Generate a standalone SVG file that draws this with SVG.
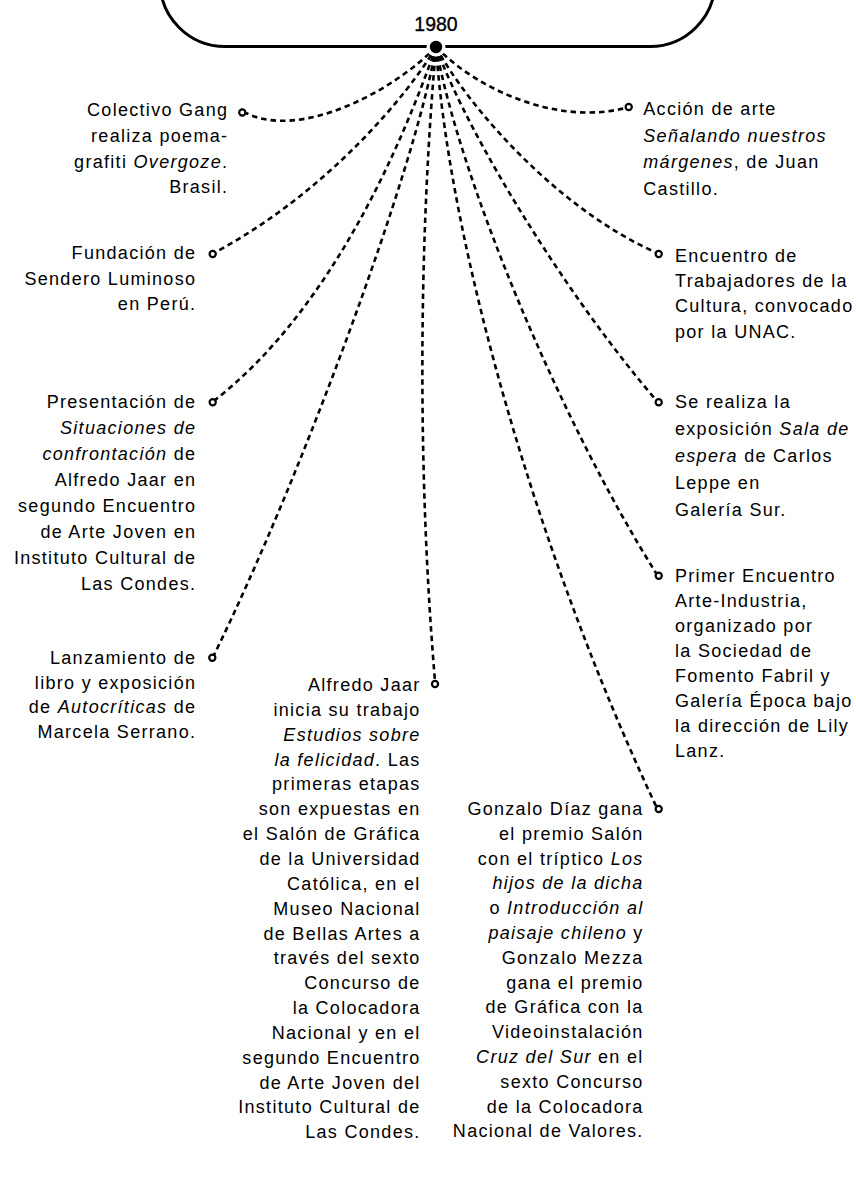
<svg xmlns="http://www.w3.org/2000/svg" width="856" height="1179" viewBox="0 0 856 1179">
<style>
.t{font-family:"Liberation Sans",Arial,sans-serif;font-size:18px;letter-spacing:1.3px;fill:#000}
.e{text-anchor:end}
.i{font-style:italic}
.c{fill:none;stroke:#000;stroke-width:2.6;stroke-dasharray:5.5 4}
.n{fill:#fff;stroke:#000;stroke-width:2.2}
</style>
<rect width="856" height="1179" fill="#fff"/>
<g id="frame">
<rect x="160" y="-200" width="555" height="246.5" rx="65" ry="65" fill="none" stroke="#000" stroke-width="3"/>
<text x="436" y="31" text-anchor="middle" font-family="Liberation Sans, Arial, sans-serif" font-size="19.5" stroke="#000" stroke-width="0.35">1980</text>
</g>
<g id="connectors">
<path class="c" d="M436,47 C392,92 300,140 246,113"/>
<path class="c" d="M436,47 C410,92 330,190 216,252"/>
<path class="c" d="M436,47 C400,150 330,310 215,400"/>
<path class="c" d="M436,47 C415,170 300,480 214,655"/>
<path class="c" d="M436,47 C418,250 418,480 435,681"/>
<path class="c" d="M436,47 C450,250 540,560 656,806"/>
<path class="c" d="M436,47 C460,180 560,420 656,573"/>
<path class="c" d="M436,47 C470,140 570,300 656,400"/>
<path class="c" d="M436,47 C470,110 560,210 655,252"/>
<path class="c" d="M436,47 C480,92 560,125 625,108"/>
</g>
<g id="hub">
<circle cx="436" cy="47" r="9.5" fill="#fff"/>
<circle cx="436" cy="47" r="6.2" fill="#000"/>
</g>
<g id="n-colectivo">
<circle class="n" cx="242.3" cy="112.5" r="3.1"/>
<text class="t e" x="228.3" y="116">Colectivo Gang</text>
<text class="t e" x="228.3" y="141.8">realiza poema-</text>
<text class="t e" x="228.3" y="167.6">grafiti <tspan class="i">Overgoze</tspan>.</text>
<text class="t e" x="228.3" y="193.4">Brasil.</text>
</g>
<g id="n-fundacion">
<circle class="n" cx="212.7" cy="254" r="3.1"/>
<text class="t e" x="196.3" y="259">Fundación de</text>
<text class="t e" x="196.3" y="284.5">Sendero Luminoso</text>
<text class="t e" x="196.3" y="310">en Perú.</text>
</g>
<g id="n-presentacion">
<circle class="n" cx="212.7" cy="402.3" r="3.1"/>
<text class="t e" x="196.3" y="408">Presentación de</text>
<text class="t e i" x="196.3" y="434">Situaciones de</text>
<text class="t e" x="196.3" y="460"><tspan class="i">confrontación</tspan> de</text>
<text class="t e" x="196.3" y="486">Alfredo Jaar en</text>
<text class="t e" x="196.3" y="512">segundo Encuentro</text>
<text class="t e" x="196.3" y="538">de Arte Joven en</text>
<text class="t e" x="196.3" y="564">Instituto Cultural de</text>
<text class="t e" x="196.3" y="590">Las Condes.</text>
</g>
<g id="n-lanzamiento">
<circle class="n" cx="212.3" cy="657.7" r="3.1"/>
<text class="t e" x="196.3" y="664">Lanzamiento de</text>
<text class="t e" x="196.3" y="688.7">libro y exposición</text>
<text class="t e" x="196.3" y="713.4">de <tspan class="i">Autocríticas</tspan> de</text>
<text class="t e" x="196.3" y="738.1">Marcela Serrano.</text>
</g>
<g id="n-alfredo">
<circle class="n" cx="435" cy="684" r="3.1"/>
<text class="t e" x="420.6" y="691">Alfredo Jaar</text>
<text class="t e" x="420.6" y="715.85">inicia su trabajo</text>
<text class="t e i" x="420.6" y="740.7">Estudios sobre</text>
<text class="t e" x="420.6" y="765.55"><tspan class="i">la felicidad</tspan>. Las</text>
<text class="t e" x="420.6" y="790.4">primeras etapas</text>
<text class="t e" x="420.6" y="815.25">son expuestas en</text>
<text class="t e" x="420.6" y="840.1">el Salón de Gráfica</text>
<text class="t e" x="420.6" y="864.95">de la Universidad</text>
<text class="t e" x="420.6" y="889.8">Católica, en el</text>
<text class="t e" x="420.6" y="914.65">Museo Nacional</text>
<text class="t e" x="420.6" y="939.5">de Bellas Artes a</text>
<text class="t e" x="420.6" y="964.35">través del sexto</text>
<text class="t e" x="420.6" y="989.2">Concurso de</text>
<text class="t e" x="420.6" y="1014.05">la Colocadora</text>
<text class="t e" x="420.6" y="1038.9">Nacional y en el</text>
<text class="t e" x="420.6" y="1063.75">segundo Encuentro</text>
<text class="t e" x="420.6" y="1088.6">de Arte Joven del</text>
<text class="t e" x="420.6" y="1113.45">Instituto Cultural de</text>
<text class="t e" x="420.6" y="1138.3">Las Condes.</text>
</g>
<g id="n-gonzalo">
<circle class="n" cx="658.7" cy="809" r="3.1"/>
<text class="t e" x="643.6" y="815">Gonzalo Díaz gana</text>
<text class="t e" x="643.6" y="839.8">el premio Salón</text>
<text class="t e" x="643.6" y="864.6">con el tríptico <tspan class="i">Los</tspan></text>
<text class="t e i" x="643.6" y="889.4">hijos de la dicha</text>
<text class="t e" x="643.6" y="914.2">o <tspan class="i">Introducción al</tspan></text>
<text class="t e" x="643.6" y="939"><tspan class="i">paisaje chileno</tspan> y</text>
<text class="t e" x="643.6" y="963.8">Gonzalo Mezza</text>
<text class="t e" x="643.6" y="988.6">gana el premio</text>
<text class="t e" x="643.6" y="1013.4">de Gráfica con la</text>
<text class="t e" x="643.6" y="1038.2">Videoinstalación</text>
<text class="t e" x="643.6" y="1063"><tspan class="i">Cruz del Sur</tspan> en el</text>
<text class="t e" x="643.6" y="1087.8">sexto Concurso</text>
<text class="t e" x="643.6" y="1112.6">de la Colocadora</text>
<text class="t e" x="643.6" y="1137.4">Nacional de Valores.</text>
</g>
<g id="n-accion">
<circle class="n" cx="628.7" cy="107" r="3.1"/>
<text class="t" x="643.3" y="115">Acción de arte</text>
<text class="t i" x="643.3" y="141.7">Señalando nuestros</text>
<text class="t" x="643.3" y="168.4"><tspan class="i">márgenes</tspan>, de Juan</text>
<text class="t" x="643.3" y="195.1">Castillo.</text>
</g>
<g id="n-encuentro">
<circle class="n" cx="658.7" cy="254" r="3.1"/>
<text class="t" x="675" y="262">Encuentro de</text>
<text class="t" x="675" y="287.2">Trabajadores de la</text>
<text class="t" x="675" y="312.4">Cultura, convocado</text>
<text class="t" x="675" y="337.6">por la UNAC.</text>
</g>
<g id="n-sala">
<circle class="n" cx="658.7" cy="402.3" r="3.1"/>
<text class="t" x="675" y="408">Se realiza la</text>
<text class="t" x="675" y="435">exposición <tspan class="i">Sala de</tspan></text>
<text class="t" x="675" y="462"><tspan class="i">espera</tspan> de Carlos</text>
<text class="t" x="675" y="489">Leppe en</text>
<text class="t" x="675" y="516">Galería Sur.</text>
</g>
<g id="n-primer">
<circle class="n" cx="658.7" cy="575.7" r="3.1"/>
<text class="t" x="675" y="582">Primer Encuentro</text>
<text class="t" x="675" y="607">Arte-Industria,</text>
<text class="t" x="675" y="632">organizado por</text>
<text class="t" x="675" y="657">la Sociedad de</text>
<text class="t" x="675" y="682">Fomento Fabril y</text>
<text class="t" x="675" y="707">Galería Época bajo</text>
<text class="t" x="675" y="732">la dirección de Lily</text>
<text class="t" x="675" y="757">Lanz.</text>
</g>
</svg>
